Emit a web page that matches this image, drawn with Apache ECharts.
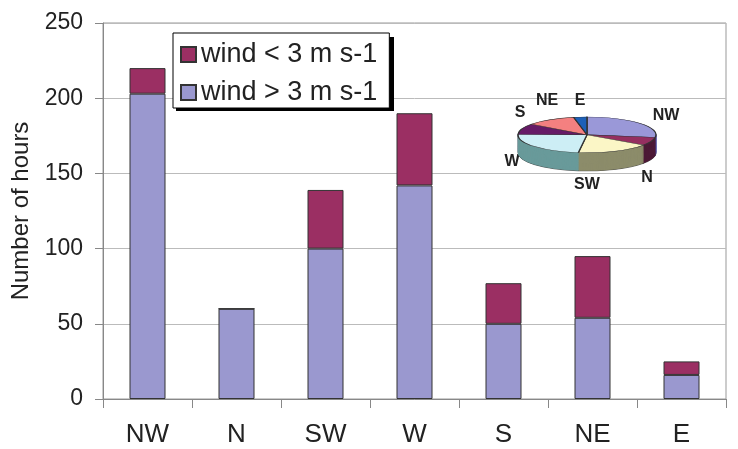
<!DOCTYPE html>
<html>
<head>
<meta charset="utf-8">
<script src="https://cdn.jsdelivr.net/npm/echarts@6/dist/echarts.min.js"></script>
<style>
html,body{margin:0;padding:0;background:#fff;}
#main{position:absolute;left:0;top:0;width:738px;height:449px;}
#pie{position:absolute;left:507px;top:114px;width:160px;height:230px;transform:scaleY(0.26);transform-origin:0 0;}
</style>
</head>
<body>
<div id="main"></div>
<div id="pie"></div>
<script>
// ---- data ----
const categories = ['NW', 'N', 'SW', 'W', 'S', 'NE', 'E'];
const windAbove3 = [203, 60, 100, 142, 50, 54, 16];   // wind > 3 m s-1
const windBelow3 = [17, 0, 39, 48, 27, 41, 9];        // wind < 3 m s-1
const yTicks = [0, 50, 100, 150, 200, 250];
const pieLabels = ['NW', 'N', 'SW', 'W', 'S', 'NE', 'E'];

// ---- styles ----
const FONT = 'Liberation Sans, Arial, sans-serif';
const colAbove = '#9a98cf';
const colBelow = '#9b2f63';
const pieTop = ['#9a98d8', '#952f60', '#fbf6c6', '#cdeef5', '#661a66', '#f48080', '#1d60b8'];
const pieSide = ['#4c4c9e', '#4d1a36', '#8c8c6a', '#699a9a', '#330d33', '#7a4040', '#0e305c'];

const main = echarts.init(document.getElementById('main'));
const lbl = (t, x, y) => ({ type: 'text', x: x, y: y, z: 10,
  style: { text: t, font: 'bold 16px ' + FONT, fill: '#222', align: 'center', verticalAlign: 'middle' } });
main.setOption({
  animation: false,
  textStyle: { fontFamily: FONT },
  grid: { left: 103, right: 12, top: 23, bottom: 50, containLabel: false, outerBoundsMode: 'none',
    show: true, borderColor: '#999', borderWidth: 1 },
  legend: {
    orient: 'vertical', left: 173, top: 33, z: 20,
    data: ['wind < 3 m s-1', 'wind > 3 m s-1'],
    icon: 'rect', itemWidth: 15, itemHeight: 15, itemGap: 11, itemTextGap: 11,
    padding: [8, 12, 2, 7],
    backgroundColor: '#fff', borderColor: '#000', borderWidth: 1,
    textStyle: { fontSize: 27, color: '#222', fontFamily: FONT }
  },
  xAxis: {
    type: 'category', data: categories,
    axisLine: { lineStyle: { color: '#888' } },
    axisTick: { show: true, length: 9, lineStyle: { color: '#888' } },
    axisLabel: { fontSize: 26, color: '#222', margin: 23, fontFamily: FONT }
  },
  yAxis: {
    type: 'value', min: yTicks[0], max: yTicks[yTicks.length - 1], interval: 50,
    name: 'Number of hours', nameLocation: 'middle', nameGap: 68,
    nameTextStyle: { fontSize: 24, color: '#222', fontFamily: FONT },
    axisLine: { show: true, lineStyle: { color: '#888' } },
    axisTick: { show: true, length: 8, lineStyle: { color: '#888' } },
    axisLabel: { fontSize: 23, color: '#222', margin: 20, fontFamily: FONT },
    splitLine: { lineStyle: { color: '#bbb' } }
  },
  series: [
    { name: 'wind > 3 m s-1', type: 'bar', stack: 'h', barWidth: 36, data: windAbove3,
      itemStyle: { color: colAbove, borderColor: '#333', borderWidth: 1 } },
    { name: 'wind < 3 m s-1', type: 'bar', stack: 'h', barWidth: 36, data: windBelow3,
      itemStyle: { color: colBelow, borderColor: '#333', borderWidth: 1 } }
  ],
  graphic: [
    // legend drop shadow
    { type: 'rect', z: 15, shape: { x: 176, y: 37, width: 218, height: 74 }, style: { fill: '#000' } },
    lbl(pieLabels[0], 666, 116), lbl(pieLabels[1], 647, 178), lbl(pieLabels[2], 587, 185),
    lbl(pieLabels[3], 512, 162), lbl(pieLabels[4], 520, 113), lbl(pieLabels[5], 547, 101),
    lbl(pieLabels[6], 580, 101)
  ]
});

// ---- 3D-looking pie inset (squashed via CSS) ----
const pieTotals = categories.map((c, i) => ({ name: c, value: windAbove3[i] + windBelow3[i] }));
const pie = echarts.init(document.getElementById('pie'), null, { renderer: 'svg' });
const pieSeries = [];
const DEPTH = 70;
for (let k = DEPTH; k >= 1; k -= 2) {
  pieSeries.push({
    type: 'pie', radius: 69, center: [80, 80 + k], startAngle: 90, clockwise: true,
    silent: true, label: { show: false }, labelLine: { show: false },
    data: pieTotals.map((d, i) => ({ name: d.name, value: d.value,
      itemStyle: { color: pieSide[i], borderColor: k === DEPTH ? '#222' : pieSide[i], borderWidth: 1 } }))
  });
}
pieSeries.push({
  type: 'pie', radius: 69, center: [80, 80], startAngle: 90, clockwise: true,
  silent: true, label: { show: false }, labelLine: { show: false },
  data: pieTotals.map((d, i) => ({ name: d.name, value: d.value,
    itemStyle: { color: pieTop[i], borderColor: '#333', borderWidth: 1.5 } }))
});
pie.setOption({ animation: false, series: pieSeries });
</script>
</body>
</html>
